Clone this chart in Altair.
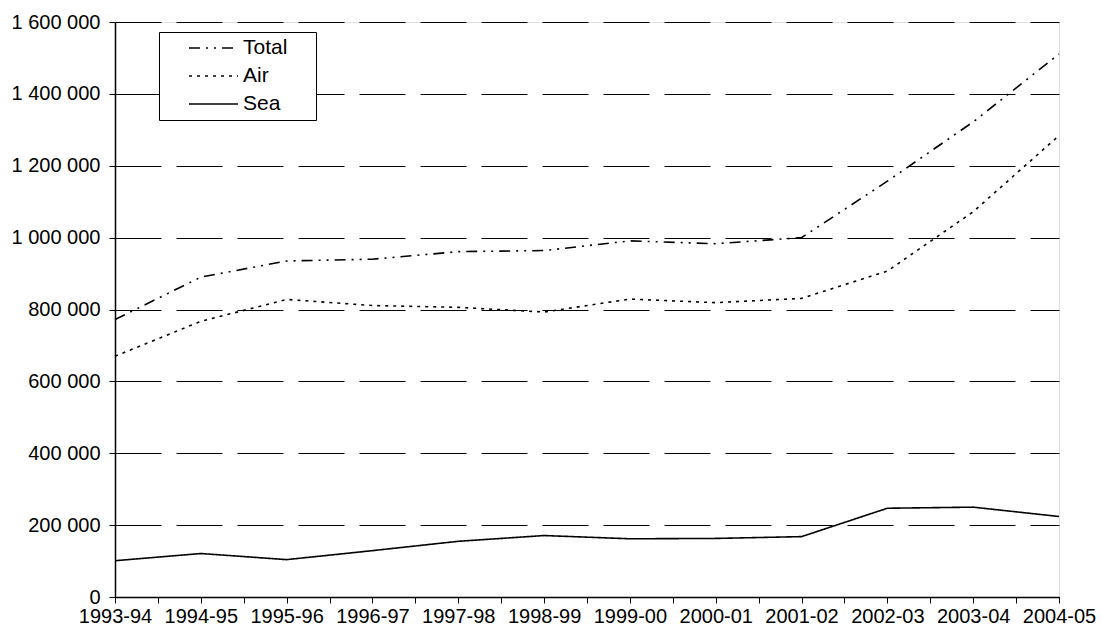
import json
import altair as alt
import pandas as pd

# Passenger movements by financial year, by mode of transport
periods = ["1993-94", "1994-95", "1995-96", "1996-97", "1997-98", "1998-99",
           "1999-00", "2000-01", "2001-02", "2002-03", "2003-04", "2004-05"]
total = [772000, 890000, 935000, 940000, 961000, 964000,
         991000, 983000, 1000000, 1157000, 1322000, 1511000]
air = [670000, 767000, 828000, 811000, 806000, 793000,
       829000, 819000, 831000, 907000, 1072000, 1284000]
sea = [101000, 121000, 104000, 129000, 155000, 171000,
       162000, 163000, 168000, 247000, 250000, 224000]

series_order = ["Total", "Air", "Sea"]
dash_styles = [[11, 6, 2, 6, 2, 6], [3, 5], [1, 0]]

rows = []
for name, values in zip(series_order, [total, air, sea]):
    for i, (p, v) in enumerate(zip(periods, values)):
        rows.append({"idx": i, "period": p, "series": name, "value": v})
df = pd.DataFrame(rows)

FONT = "Arial, Liberation Sans, sans-serif"
period_js = json.dumps(periods)

# ticks on every category and halfway between categories
x_ticks = [i / 2 for i in range(0, 2 * (len(periods) - 1) + 1)]

chart = alt.Chart(df).mark_line(strokeWidth=1.6, color="black").encode(
    x=alt.X(
        "idx:Q",
        scale=alt.Scale(domain=[0, len(periods) - 1], nice=False, zero=False),
        axis=alt.Axis(
            title=None,
            values=x_ticks,
            labelExpr=f"datum.value % 1 == 0 ? {period_js}[datum.value] : ''",
            grid=False,
            tickSize=6,
            tickColor="black",
            domainColor="black",
            domainWidth=1.5,
            labelFont=FONT,
            labelFontSize=20,
            labelColor="black",
            labelPadding=3,
            labelFlush=False,
            labelOverlap=False,
        ),
    ),
    y=alt.Y(
        "value:Q",
        scale=alt.Scale(domain=[0, 1600000], nice=False),
        axis=alt.Axis(
            title=None,
            values=list(range(0, 1600001, 200000)),
            labelExpr="replace(format(datum.value, ','), /,/g, ' ')",
            grid=True,
            gridColor="black",
            gridDash=[46, 15],
            gridWidth=1,
            tickSize=6,
            tickColor="black",
            domainColor="black",
            domainWidth=1.5,
            labelFont=FONT,
            labelFontSize=20,
            labelColor="black",
            labelPadding=9,
        ),
    ),
    strokeDash=alt.StrokeDash(
        "series:N",
        scale=alt.Scale(domain=series_order, range=dash_styles),
        legend=alt.Legend(
            title="\u2007",
            titleOrient="right",
            titlePadding=23,
            titleFontSize=20,
            orient="none",
            legendX=44,
            legendY=10,
            strokeColor="black",
            fillColor="white",
            padding=6,
            symbolOffset=23,
            symbolType="stroke",
            symbolSize=2401,
            symbolStrokeWidth=1.5,
            symbolStrokeColor="black",
            clipHeight=20,
            labelFont=FONT,
            labelFontSize=21,
            labelColor="black",
            labelOffset=4,
            rowPadding=7,
        ),
    ),
    detail="series:N",
).properties(
    width=944,
    height=575,
    autosize=alt.AutoSizeParams(type="none"),
    padding={"left": 115, "top": 22, "right": 42, "bottom": 39},
).configure_view(
    stroke="black",
    strokeWidth=1.5,
).configure(background="white")

chart.save("out.html", embed_options={"renderer": "svg", "actions": False})
